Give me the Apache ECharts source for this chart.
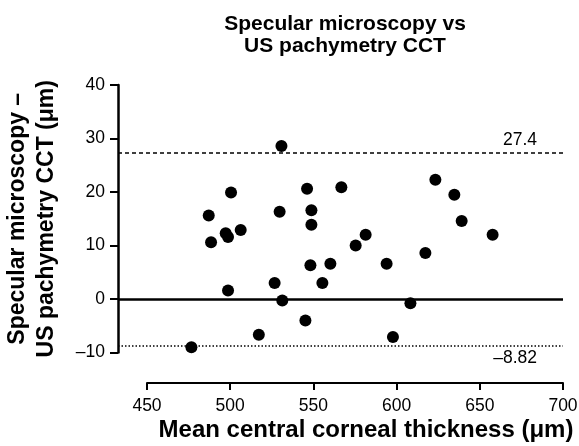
<!DOCTYPE html>
<html>
<head>
<meta charset="utf-8">
<script src="https://cdn.jsdelivr.net/npm/echarts@6/dist/echarts.min.js"></script>
<style>
  html, body { margin: 0; padding: 0; background: #fff; }
  #chart { width: 579px; height: 446px; }
</style>
</head>
<body>
<div id="chart"></div>
<script>
// mean CCT (x) vs difference (y)
var meanCCT = [476.7, 487.1, 500.5, 488.5, 497.3, 498.7, 506.3, 498.7, 517.2, 530.8,
  529.7, 526.7, 531.3, 545.2, 546.2, 548.8, 548.8, 548.2, 555.4, 560.2,
  566.8, 575.4, 581.4, 594.0, 608.3, 597.8, 617.3, 623.3, 634.7, 639.1, 657.7];
var diffCCT = [-9.0, 15.6, 19.9, 10.6, 12.3, 11.6, 12.9, 1.6, -6.7, 28.6,
  16.3, 3.0, -0.3, -4.0, 20.6, 16.6, 13.9, 6.3, 3.0, 6.6,
  20.9, 10.0, 12.0, 6.6, -0.8, -7.1, 8.6, 22.3, 19.5, 14.6, 12.0];
var upperLoA = 27.4;
var lowerLoA = -8.82;
var xTicks = [450, 700, 50];
var yTicks = [-10, 40, 10];

var font = "Liberation Sans, Arial, sans-serif";
var chart = echarts.init(document.getElementById("chart"));

var points = meanCCT.map(function (x, i) {
  return [x, diffCCT[i]];
});

// hidden x axis of the plotting grid starts left of 450 so that the
// reference lines reach the y axis, like the original
var plotLeft = 118, axisLeft = 147, plotRight = 563;
var pxPerUnit = (plotRight - axisLeft) / (xTicks[1] - xTicks[0]);
var hiddenMin = xTicks[0] - (axisLeft - plotLeft) / pxPerUnit;

chart.setOption({
  animation: false,
  title: {
    text: "Specular microscopy vs\nUS pachymetry CCT",
    left: 340,
    top: 8,
    textAlign: "center",
    textStyle: {
      fontFamily: font,
      fontWeight: "bold",
      fontSize: 21,
      lineHeight: 22,
      color: "#000"
    }
  },
  grid: [
    { left: plotLeft, right: 579 - plotRight, top: 85, bottom: 93.5, outerBoundsMode: "none" },
    { left: axisLeft, right: 579 - plotRight, top: 383, height: 0, outerBoundsMode: "none" }
  ],
  xAxis: [
    {
      gridIndex: 0,
      type: "value",
      min: hiddenMin,
      max: xTicks[1],
      show: false
    },
    {
      gridIndex: 1,
      type: "value",
      min: xTicks[0],
      max: xTicks[1],
      interval: xTicks[2],
      name: "Mean central corneal thickness (μm)",
      nameLocation: "middle",
      nameGap: 35,
      nameTextStyle: {
        fontFamily: font, fontWeight: "bold", fontSize: 24, color: "#000",
        padding: [0, 0, 0, 22]
      },
      axisLine: { lineStyle: { color: "#000", width: 2 } },
      axisTick: { length: 7, lineStyle: { color: "#000", width: 2 } },
      axisLabel: { fontFamily: font, fontSize: 17.5, color: "#000", margin: 14 },
      splitLine: { show: false }
    }
  ],
  yAxis: [
    {
      gridIndex: 0,
      type: "value",
      min: yTicks[0],
      max: yTicks[1],
      interval: yTicks[2],
      name: "Specular microscopy –\nUS pachymetry CCT (μm)",
      nameLocation: "middle",
      nameGap: 57,
      nameTextStyle: { fontFamily: font, fontWeight: "bold", fontSize: 23, color: "#000", lineHeight: 29 },
      axisLine: { show: true, lineStyle: { color: "#000", width: 2.5 } },
      axisTick: { show: true, length: 8, lineStyle: { color: "#000", width: 2 } },
      axisLabel: {
        fontFamily: font, fontSize: 17.5, color: "#000", margin: 13,
        formatter: function (v) { return String(v).replace("-", "–"); }
      },
      splitLine: { show: false }
    },
    {
      gridIndex: 1,
      type: "value",
      show: false
    }
  ],
  series: [
    {
      type: "scatter",
      xAxisIndex: 0,
      yAxisIndex: 0,
      symbol: "circle",
      symbolSize: 12,
      itemStyle: { color: "#000", opacity: 1 },
      data: points,
      markLine: {
        silent: true,
        symbol: "none",
        data: [
          {
            yAxis: upperLoA,
            lineStyle: { type: [4, 3], color: "#000", width: 1.5 },
            label: {
              show: true,
              position: "insideEndTop",
              formatter: "27.4",
              distance: [26, 3],
              fontFamily: font,
              fontSize: 17.5,
              color: "#000"
            }
          },
          {
            yAxis: 0,
            lineStyle: { type: "solid", color: "#000", width: 2.5 },
            label: { show: false }
          },
          {
            yAxis: lowerLoA,
            lineStyle: { type: [1.5, 2], color: "#000", width: 1.5 },
            label: {
              show: true,
              position: "insideEndBottom",
              formatter: "–8.82",
              distance: [26, 3],
              fontFamily: font,
              fontSize: 17.5,
              color: "#000"
            }
          }
        ]
      }
    }
  ]
});
</script>
</body>
</html>
